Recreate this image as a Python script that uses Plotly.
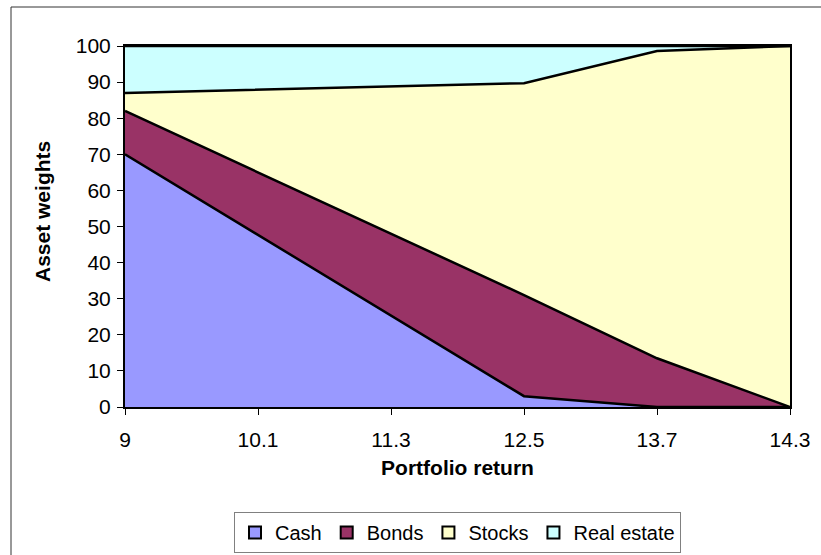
import plotly.graph_objects as go

# Portfolio return levels (categories on the x axis)
returns = ["9", "10.1", "11.3", "12.5", "13.7", "14.3"]

# Asset weights (%) for each portfolio, stacked bottom to top
cash = [70, 47.7, 25.3, 3, 0, 0]
bonds = [12, 17.3, 22.7, 28, 13.5, 0]
stocks = [5, 22.9, 40.8, 58.7, 85.1, 100]
real_estate = [13, 12.1, 11.2, 10.3, 1.4, 0]

series_names = ["Cash", "Bonds", "Stocks", "Real estate"]
series_values = [cash, bonds, stocks, real_estate]
series_colors = ["#9999FF", "#993366", "#FFFFCC", "#CCFFFF"]

y_ticks = list(range(0, 101, 10))

FONT = "Liberation Sans, Arial, sans-serif"

fig = go.Figure()

# Stacked areas
for name, vals, color in zip(series_names, series_values, series_colors):
    fig.add_trace(go.Scatter(
        x=returns, y=vals, name=name,
        mode="lines", stackgroup="weights",
        line=dict(color="black", width=2.5),
        fillcolor=color, showlegend=False,
        hoverinfo="x+y+name",
    ))

# Legend entries drawn as bordered squares
for name, color in zip(series_names, series_colors):
    fig.add_trace(go.Scatter(
        x=[None], y=[None], name=name, mode="markers",
        marker=dict(symbol="square", size=12, color=color,
                    line=dict(color="black", width=2)),
        showlegend=True,
    ))

L, R, T, B = 125, 31, 46, 148
W, H = 821, 555
pw, ph = W - L - R, H - T - B

def px_x(p):
    return (p - L) / pw

def px_y(p):
    return (H - B - p) / ph

fig.update_layout(
    width=W, height=H,
    margin=dict(l=L, r=R, t=T, b=B, autoexpand=False),
    paper_bgcolor="white", plot_bgcolor="white",
    font=dict(family=FONT, size=21, color="black"),
    showlegend=True,
    legend=dict(
        orientation="h", x=0.5, xanchor="center",
        y=px_y(512), yanchor="top", traceorder="normal",
        bordercolor="#808080", borderwidth=1, bgcolor="white",
        font=dict(family=FONT, size=20, color="black"),
        itemwidth=30, tracegroupgap=0,
    ),
    xaxis=dict(
        type="category", range=[0, len(returns) - 1],
        showgrid=False, zeroline=False,
        showline=True, linecolor="black", linewidth=2, mirror=True,
        ticks="outside", ticklen=6, tickcolor="black", tickwidth=1,
        ticklabelstandoff=7,
        tickfont=dict(family=FONT, size=21, color="black"),
        title=dict(text="<b>Portfolio return</b>", standoff=10,
                   font=dict(family=FONT, size=21, color="black")),
    ),
    yaxis=dict(
        range=[0, 100], tickvals=y_ticks,
        showgrid=False, zeroline=False,
        showline=True, linecolor="black", linewidth=2, mirror=True,
        ticks="outside", ticklen=6, tickcolor="black", tickwidth=1,
        ticklabelstandoff=2,
        tickfont=dict(family=FONT, size=21, color="black"),
    ),
    annotations=[
        dict(text="<b>Asset weights</b>", textangle=-90,
             xref="paper", yref="paper", x=px_x(42), y=px_y(212),
             xanchor="center", yanchor="middle", showarrow=False,
             font=dict(family=FONT, size=21, color="black")),
    ],
    shapes=[
        # chart-area frame (left and top edges)
        dict(type="line", xref="paper", yref="paper",
             x0=px_x(11), x1=px_x(11), y0=px_y(7), y1=px_y(560),
             line=dict(color="#333333", width=1)),
        dict(type="line", xref="paper", yref="paper",
             x0=px_x(11), x1=px_x(830), y0=px_y(7), y1=px_y(7),
             line=dict(color="#333333", width=1)),
    ],
)

fig.write_html("out.html")
